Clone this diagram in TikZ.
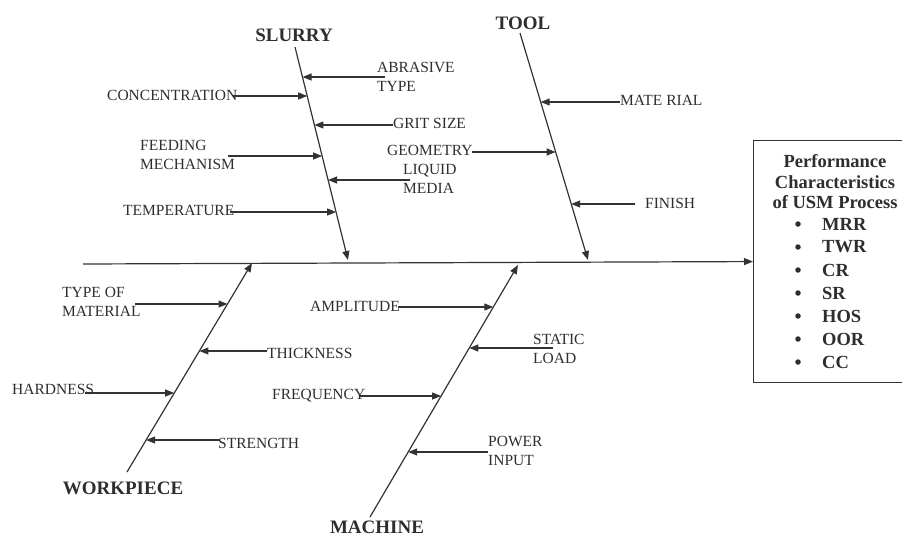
\documentclass[tikz,border=0pt]{standalone}
\usepackage{fontspec}
\setmainfont{Liberation Serif}
\usetikzlibrary{arrows.meta}
\definecolor{ink}{HTML}{2E2E2E}
\definecolor{wire}{HTML}{333333}
\begin{document}
\begin{tikzpicture}[x=1pt,y=-1pt,
  lbl/.style={anchor=west, inner sep=0pt, align=left, text=ink, font=\fontsize{15.5}{19}\selectfont},
  ttl/.style={inner sep=0pt, text=ink, font=\bfseries\fontsize{19}{21}\selectfont},
  boxtxt/.style={inner sep=0pt, text=ink, font=\bfseries\fontsize{18.5}{20.5}\selectfont},
  bulletmark/.style={circle, fill=ink, inner sep=0pt, minimum size=5.5pt},
  cause/.style={draw=wire, line width=1.1pt, -{Triangle[length=9pt,width=7pt]}},
  bone/.style={draw=wire, line width=1.2pt, -{Triangle[length=9pt,width=7pt]}}]
\useasboundingbox (0,0) rectangle (902,536);

% effect box
\node[draw=wire, line width=1.1pt, minimum width=150pt, minimum height=242pt,
      inner sep=0pt, anchor=north west] (box) at (753,140) {};
\node[boxtxt, align=center] (hdr) at (835,182) {Performance\\Characteristics\\of USM Process};
\foreach \t [count=\i] in {MRR,TWR,CR,SR,HOS,OOR,CC}{
  \node[bulletmark] (bul\i) at (798,{224+23*(\i-1)}) {};
  \node[boxtxt, anchor=west] (res\i) at (822,{224+23*(\i-1)}) {\t};
}

% spine
\coordinate (sp0) at (83,264);
\draw[bone] (sp0) -- (box.west);

% bones
\coordinate (sT) at (295,47);  \coordinate (sB) at (348,260);
\coordinate (tT) at (520,33);  \coordinate (tB) at (588,260);
\coordinate (wB) at (127,472); \coordinate (wT) at (252,263);
\coordinate (mB) at (370,517); \coordinate (mT) at (518,265);
\draw[bone] (sT) -- (sB);
\draw[bone] (tT) -- (tB);
\draw[bone] (wB) -- (wT);
\draw[bone] (mB) -- (mT);

% titles
\node[ttl] (slurry) at (294,35) {SLURRY};
\node[ttl] (tool) at (523,23) {TOOL};
\node[ttl] (work) at (123,488) {WORKPIECE};
\node[ttl] (mach) at (377,527) {MACHINE};

% slurry causes
\node[lbl] (abr) at (377,76.5) {ABRASIVE\\TYPE};
\coordinate (abrA) at (385,77);   \coordinate (abrB) at (302.5,77);
\draw[cause] (abrA) -- (abrB);
\node[lbl] (conc) at (107,95) {CONCENTRATION};
\coordinate (concA) at (233,96);  \coordinate (concB) at (307.2,96);
\draw[cause] (concA) -- (concB);
\node[lbl] (grit) at (393,123) {GRIT SIZE};
\coordinate (gritA) at (393,125); \coordinate (gritB) at (314.4,125);
\draw[cause] (gritA) -- (gritB);
\node[lbl] (feed) at (140,155) {FEEDING\\MECHANISM};
\coordinate (feedA) at (228,156); \coordinate (feedB) at (322.1,156);
\draw[cause] (feedA) -- (feedB);
\node[lbl] (liq) at (403,179) {LIQUID\\MEDIA};
\coordinate (liqA) at (410,180);  \coordinate (liqB) at (328.1,180);
\draw[cause] (liqA) -- (liqB);
\node[lbl] (temp) at (123,210) {TEMPERATURE};
\coordinate (tempA) at (230,212); \coordinate (tempB) at (336.1,212);
\draw[cause] (tempA) -- (tempB);

% tool causes
\node[lbl] (mat) at (620,100) {MATE RIAL};
\coordinate (matA) at (620,102);  \coordinate (matB) at (540.7,102);
\draw[cause] (matA) -- (matB);
\node[lbl] (geo) at (387,150) {GEOMETRY};
\coordinate (geoA) at (472,152);  \coordinate (geoB) at (555.6,152);
\draw[cause] (geoA) -- (geoB);
\node[lbl] (fin) at (645,203) {FINISH};
\coordinate (finA) at (635,204);  \coordinate (finB) at (571.2,204);
\draw[cause] (finA) -- (finB);

% workpiece causes
\node[lbl] (tom) at (62,302) {TYPE OF\\MATERIAL};
\coordinate (tomA) at (135,304);  \coordinate (tomB) at (227.5,304);
\draw[cause] (tomA) -- (tomB);
\node[lbl] (thk) at (267,353) {THICKNESS};
\coordinate (thkA) at (267,351);  \coordinate (thkB) at (199.4,351);
\draw[cause] (thkA) -- (thkB);
\node[lbl] (hard) at (12,389) {HARDNESS};
\coordinate (hardA) at (85,393);  \coordinate (hardB) at (174.2,393);
\draw[cause] (hardA) -- (hardB);
\node[lbl] (str) at (218,443) {STRENGTH};
\coordinate (strA) at (220,440);  \coordinate (strB) at (146.1,440);
\draw[cause] (strA) -- (strB);

% machine causes
\node[lbl] (amp) at (310,306) {AMPLITUDE};
\coordinate (ampA) at (398,307);  \coordinate (ampB) at (493.3,307);
\draw[cause] (ampA) -- (ampB);
\node[lbl] (stat) at (533,349) {STATIC\\LOAD};
\coordinate (statA) at (553,348); \coordinate (statB) at (469.3,348);
\draw[cause] (statA) -- (statB);
\node[lbl] (freq) at (272,396) {FREQUENCY};
\coordinate (freqA) at (360,396); \coordinate (freqB) at (441.1,396);
\draw[cause] (freqA) -- (freqB);
\node[lbl] (pow) at (488,451) {POWER\\INPUT};
\coordinate (powA) at (488,452);  \coordinate (powB) at (408.2,452);
\draw[cause] (powA) -- (powB);
\end{tikzpicture}
\end{document}
